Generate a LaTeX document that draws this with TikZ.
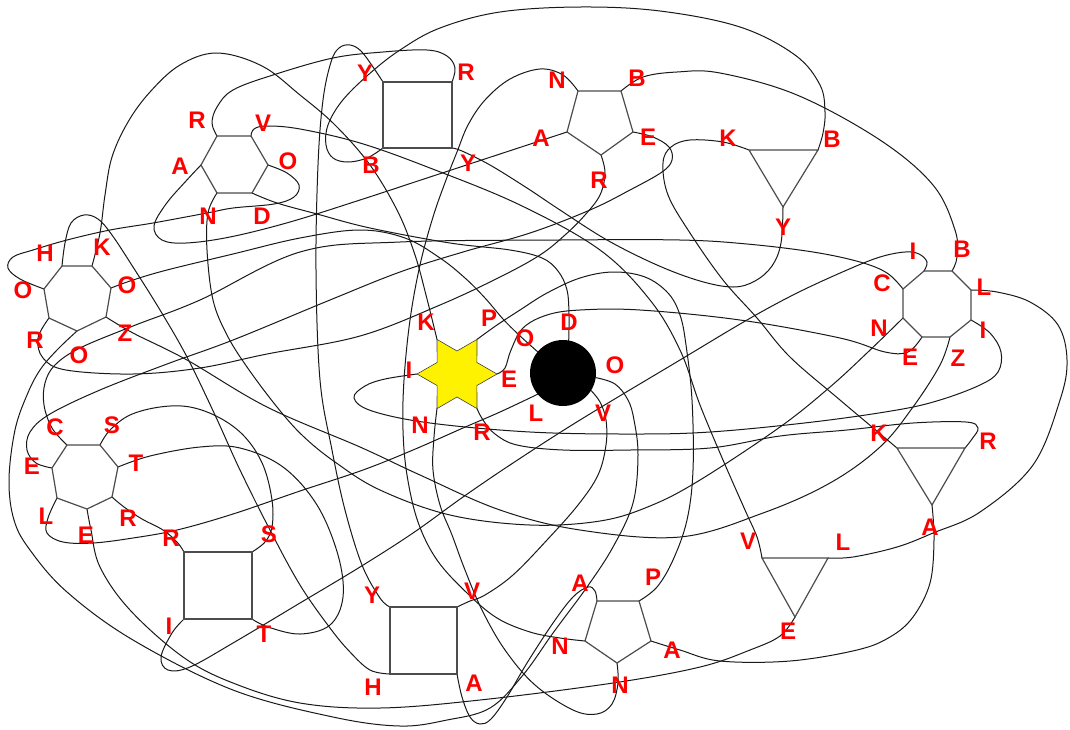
\documentclass[tikz,border=0pt]{standalone}
\usepackage{fontspec}
\setmainfont{Liberation Sans}
\begin{document}
\begin{tikzpicture}[x=1pt,y=-1pt,
  conn/.style={line width=1.0pt, draw=black!90, line cap=round},
  poly/.style={line width=1.2pt, draw=black!70, line join=miter},
  lbl/.style={text=red, font=\fontsize{24}{24}\selectfont\bfseries, inner sep=0pt}]
\useasboundingbox[fill=white] (0,0) rectangle (1070,729);
% hexagon
\coordinate (hR) at (217,136); \coordinate (hV) at (251,136); \coordinate (hO) at (268,165);
\coordinate (hD) at (252,193); \coordinate (hN) at (217,193); \coordinate (hA) at (201,165);
% top square
\coordinate (s1Ytl) at (383,82); \coordinate (s1R) at (452,82); \coordinate (s1Ybr) at (452,148); \coordinate (s1B) at (383,148);
% top pentagon
\coordinate (p1N) at (578,91); \coordinate (p1B) at (621,91); \coordinate (p1E) at (633,132); \coordinate (p1R) at (601,155); \coordinate (p1A) at (567,132);
% top triangle
\coordinate (t1K) at (749,150); \coordinate (t1B) at (818,150); \coordinate (t1Y) at (783,207);
% octagon
\coordinate (oIt) at (924,271); \coordinate (oB) at (952,271); \coordinate (oL) at (971,290); \coordinate (oIr) at (971,320);
\coordinate (oZ) at (950,337); \coordinate (oE) at (922,337); \coordinate (oN) at (903,318); \coordinate (oC) at (903,289);
% left heptagon
\coordinate (lH) at (62,266); \coordinate (lK) at (92,266); \coordinate (lOr) at (111,288); \coordinate (lZ) at (106,317);
\coordinate (lOb) at (77,331); \coordinate (lR) at (49,318); \coordinate (lOl) at (44,289);
% lower-left heptagon
\coordinate (mC) at (67,445); \coordinate (mS) at (100,445); \coordinate (mT) at (118,467); \coordinate (mR) at (112,497);
\coordinate (mEb) at (87,509); \coordinate (mL) at (57,498); \coordinate (mEl) at (52,468);
% squares
\coordinate (s2R) at (184,552); \coordinate (s2S) at (252,552); \coordinate (s2T) at (252,619); \coordinate (s2I) at (184,619);
\coordinate (s3Y) at (390,607); \coordinate (s3V) at (457,607); \coordinate (s3A) at (457,674); \coordinate (s3H) at (390,674);
% bottom pentagon
\coordinate (p2At) at (597,601); \coordinate (p2P) at (639,601); \coordinate (p2Ar) at (651,641); \coordinate (p2Nb) at (617,663); \coordinate (p2Nl) at (585,641);
% triangles
\coordinate (t2K) at (897,448); \coordinate (t2R) at (965,448); \coordinate (t2A) at (932,505);
\coordinate (t3V) at (762,558); \coordinate (t3L) at (828,558); \coordinate (t3E) at (795,617);
% star tips
\coordinate (sE) at (497,374); \coordinate (sP) at (477,339.4); \coordinate (sK) at (437,339.4);
\coordinate (sI) at (417,374); \coordinate (sN) at (437,408.6); \coordinate (sR) at (477,408.6);
% circle points
\coordinate (cc) at (563,373);
\coordinate (cD) at (568.7,340.5); \coordinate (cOtl) at (537.7,351.8); \coordinate (cOr) at (595.7,377.6);
\coordinate (cV) at (591,390.5); \coordinate (cL) at (537.7,394.2);

% connectors
\draw[conn] plot[smooth,tension=0.6] coordinates {(hA) (186,181) (166,204) (154,226) (162,240) (186,243) (230,237) (290,222) (360,200) (430,177) (500,154) (p1A)};
\draw[conn] plot[smooth,tension=0.6] coordinates {(s3A) (462,697) (470,717) (480,724) (491,719) (507,697) (527,663) (553,623) (573,597) (588,587) (595,591) (p2At)};
\draw[conn] plot[smooth,tension=0.6] coordinates {(p2Ar) (680,650) (720,661) (790,661) (857,650) (890,637) (913,617) (930,583) (934,540) (t2A)};
\draw[conn] plot[smooth,tension=0.6] coordinates {(s1B) (367,158) (348,162) (333,158) (326,145) (328,125) (342,101) (368,75) (400,50) (440,28) (500,12) (580,7) (660,11) (740,27) (795,55) (820,85) (825,112) (823,133) (t1B)};
\draw[conn] plot[smooth,tension=0.6] coordinates {(p1B) (643,77) (677,72) (720,73) (797,95) (880,140) (933,185) (955,230) (957,257) (oB)};
\draw[conn] plot[smooth,tension=0.6] coordinates {(mC) (52,428) (44,405) (45,383) (55,365) (80,348) (133,326) (200,300) (300,252) (400,242) (560,240) (680,240) (747,244) (813,252) (860,262) (887,273) (oC)};
\draw[conn] plot[smooth,tension=0.6] coordinates {(hD) (277,203) (317,214) (370,228) (450,243) (510,250) (542,258) (558,271) (567,290) (569,315) (cD)};
\draw[conn] plot[smooth,tension=0.6] coordinates {(p1E) (653,137) (669,147) (672,160) (662,172) (630,190) (590,210) (530,233) (463,252) (400,272) (330,300) (233,340) (167,364) (100,390) (50,414) (30,432) (27,450) (36,463) (mEl)};
\draw[conn] plot[smooth,tension=0.6] coordinates {(sE) (505,368) (511,350) (523,328) (547,315) (580,310) (640,310) (740,320) (840,338) (885,352) (908,352) (oE)};
\draw[conn] plot[smooth,tension=0.6] coordinates {(mEb) (91,530) (100,567) (130,610) (183,657) (233,683) (300,703) (380,708) (480,700) (613,683) (700,667) (750,650) (780,636) (t3E)};
\draw[conn] plot[smooth,tension=0.6] coordinates {(lH) (65,243) (71,223) (84,215) (98,219) (112,235) (133,267) (160,310) (187,357) (215,415) (240,470) (270,530) (300,585) (330,628) (350,652) (370,670) (s3H)};
\draw[conn] plot[smooth,tension=0.6] coordinates {(oIt) (927,262) (919,254) (905,252) (880,257) (847,270) (797,293) (747,320) (680,360) (580,420) (513,463) (463,497) (413,533) (360,567) (300,603) (233,643) (190,667) (168,670) (161,657) (172,633) (s2I)};
\draw[conn] plot[smooth,tension=0.6] coordinates {(oIr) (990,333) (1001,352) (998,372) (980,385) (940,400) (897,410) (813,422) (710,432) (630,434) (530,432) (430,423) (372,411) (354,398) (365,386) (385,379) (sI)};
\draw[conn] plot[smooth,tension=0.6] coordinates {(t1K) (723,142) (690,140) (671,147) (663,163) (668,195) (690,233) (723,280) (757,318) (790,357) (840,400) (878,432) (t2K)};
\draw[conn] plot[smooth,tension=0.6] coordinates {(lK) (100,233) (105,195) (112,157) (128,122) (150,92) (180,65) (217,53) (262,66) (300,95) (335,125) (370,165) (398,212) (415,255) (426,295) (sK)};
\draw[conn] plot[smooth,tension=0.6] coordinates {(oL) (997,292) (1030,302) (1058,325) (1067,360) (1060,400) (1033,465) (980,512) (933,533) (897,547) (853,557) (t3L)};
\draw[conn] plot[smooth,tension=0.6] coordinates {(mL) (48,518) (47,533) (63,542) (93,543) (133,538) (177,530) (233,514) (300,491) (363,470) (413,450) (463,428) (500,412) (cL)};
\draw[conn] plot[smooth,tension=0.6] coordinates {(hN) (208,213) (207,250) (213,300) (227,335) (247,367) (277,407) (303,436) (335,462) (380,490) (450,515) (530,525) (600,521) (650,506) (700,480) (780,427) (830,387) (868,352) (oN)};
\draw[conn] plot[smooth,tension=0.6] coordinates {(p1N) (563,75) (540,69) (510,79) (485,100) (468,125) (457,152) (446,180) (433,217) (420,265) (410,320) (404,380) (403,430) (407,475) (418,522) (437,560) (467,593) (497,618) (530,632) (560,638) (p2Nl)};
\draw[conn] plot[smooth,tension=0.6] coordinates {(sN) (434,437) (433,470) (440,505) (452,535) (465,570) (482,610) (505,650) (535,685) (573,710) (597,714) (612,704) (618,683) (p2Nb)};
\draw[conn] plot[smooth,tension=0.6] coordinates {(hO) (287,173) (299,185) (294,197) (274,204) (233,208) (207,213) (153,223) (110,230) (67,240) (33,250) (13,257) (8,268) (20,279) (lOl)};
\draw[conn] plot[smooth,tension=0.6] coordinates {(lOr) (133,280) (167,270) (233,254) (300,238) (360,230) (405,238) (440,258) (465,278) (485,298) (503,319) (519,335) (cOtl)};
\draw[conn] plot[smooth,tension=0.6] coordinates {(lOb) (57,350) (40,370) (27,395) (15,430) (9,480) (14,520) (30,550) (67,592) (133,640) (233,690) (333,717) (400,726) (447,720) (490,708) (523,675) (553,633) (587,587) (613,547) (633,503) (638,455) (634,420) (628,400) (615,384) (cOr)};
\draw[conn] plot[smooth,tension=0.6] coordinates {(sP) (497,325) (520,310) (547,293) (580,278) (613,272) (645,277) (668,293) (680,315) (686,345) (692,400) (693,470) (687,520) (673,560) (657,587) (p2P)};
\draw[conn] plot[smooth,tension=0.6] coordinates {(hR) (212,123) (217,107) (233,90) (273,75) (333,58) (383,52) (427,50) (447,56) (455,68) (s1R)};
\draw[conn] plot[smooth,tension=0.6] coordinates {(mR) (124,507) (142,519) (163,530) (177,542) (s2R)};
\draw[conn] plot[smooth,tension=0.6] coordinates {(lR) (38,338) (43,358) (66,370) (133,374) (200,368) (267,354) (360,336) (440,305) (500,277) (540,255) (565,235) (585,215) (600,195) (605,173) (p1R)};
\draw[conn] plot[smooth,tension=0.6] coordinates {(sR) (483,420) (495,434) (517,445) (563,450) (630,450) (710,448) (780,436) (847,430) (913,423) (966,422) (978,428) (972,439) (t2R)};
\draw[conn] plot[smooth,tension=0.6] coordinates {(mS) (110,430) (130,415) (160,407) (190,407) (220,418) (245,437) (263,465) (272,500) (272,527) (265,542) (s2S)};
\draw[conn] plot[smooth,tension=0.6] coordinates {(mT) (150,456) (200,447) (240,448) (283,467) (317,505) (338,555) (343,597) (330,625) (300,634) (268,627) (s2T)};
\draw[conn] plot[smooth,tension=0.6] coordinates {(hV) (254,129) (267,126) (300,129) (360,143) (430,168) (520,205) (600,250) (650,300) (680,350) (700,405) (723,460) (745,510) (757,537) (t3V)};
\draw[conn] plot[smooth,tension=0.6] coordinates {(cV) (600,402) (606,420) (606,445) (598,475) (578,505) (547,540) (513,575) (485,595) (470,601) (s3V)};
\draw[conn] plot[smooth,tension=0.6] coordinates {(s1Ytl) (373,67) (361,51) (350,45) (339,48) (331,62) (323,100) (318,165) (316,270) (320,380) (332,450) (345,510) (362,565) (380,598) (s3Y)};
\draw[conn] plot[smooth,tension=0.6] coordinates {(s1Ybr) (462,151) (490,165) (527,188) (560,210) (607,240) (657,265) (700,281) (733,287) (755,281) (772,266) (781,243) (t1Y)};
\draw[conn] plot[smooth,tension=0.6] coordinates {(lZ) (133,333) (187,360) (267,407) (360,447) (420,475) (500,510) (580,530) (680,537) (763,513) (830,483) (880,447) (913,407) (940,365) (oZ)};

% polygons
\draw[poly] (hR) -- (hV) -- (hO) -- (hD) -- (hN) -- (hA) -- cycle;
\draw[poly] (s1Ytl) -- (s1R) -- (s1Ybr) -- (s1B) -- cycle;
\draw[poly] (p1N) -- (p1B) -- (p1E) -- (p1R) -- (p1A) -- cycle;
\draw[poly] (t1K) -- (t1B) -- (t1Y) -- cycle;
\draw[poly] (oIt) -- (oB) -- (oL) -- (oIr) -- (oZ) -- (oE) -- (oN) -- (oC) -- cycle;
\draw[poly] (lH) -- (lK) -- (lOr) -- (lZ) -- (lOb) -- (lR) -- (lOl) -- cycle;
\draw[poly] (mC) -- (mS) -- (mT) -- (mR) -- (mEb) -- (mL) -- (mEl) -- cycle;
\draw[poly] (s2R) -- (s2S) -- (s2T) -- (s2I) -- cycle;
\draw[poly] (s3Y) -- (s3V) -- (s3A) -- (s3H) -- cycle;
\draw[poly] (p2At) -- (p2P) -- (p2Ar) -- (p2Nb) -- (p2Nl) -- cycle;
\draw[poly] (t2K) -- (t2R) -- (t2A) -- cycle;
\draw[poly] (t3V) -- (t3L) -- (t3E) -- cycle;
% star
\filldraw[fill=yellow, draw=black!75, line width=0.6pt] (sE) -- (476.92,362.5) -- (sP) -- (457,351) -- (sK) -- (437.08,362.5) -- (sI) -- (437.08,385.5) -- (sN) -- (457,397) -- (sR) -- (476.92,385.5) -- cycle;
% black circle
\fill[black] (cc) circle[radius=33];

% labels
\node[lbl] (LhR) at (197,120) {R}; \node[lbl] (LhV) at (263,123) {V}; \node[lbl] (LhO) at (288,161) {O};
\node[lbl] (LhD) at (262,216) {D}; \node[lbl] (LhN) at (208,216) {N}; \node[lbl] (LhA) at (180,166) {A};
\node[lbl] (Ls1Yt) at (365,73) {Y}; \node[lbl] (Ls1R) at (466,72) {R}; \node[lbl] (Ls1B) at (371,165) {B}; \node[lbl] (Ls1Yb) at (468,163) {Y};
\node[lbl] (Lp1N) at (557,80) {N}; \node[lbl] (Lp1B) at (637,78) {B}; \node[lbl] (Lp1E) at (648,137) {E}; \node[lbl] (Lp1R) at (599,180) {R}; \node[lbl] (Lp1A) at (541,138) {A};
\node[lbl] (Lt1K) at (728,138) {K}; \node[lbl] (Lt1B) at (832,139) {B}; \node[lbl] (Lt1Y) at (783,227) {Y};
\node[lbl] (LoIt) at (913,251) {I}; \node[lbl] (LoB) at (962,249) {B}; \node[lbl] (LoL) at (984,287) {L}; \node[lbl] (LoIr) at (983,330) {I};
\node[lbl] (LoZ) at (958,358) {Z}; \node[lbl] (LoE) at (910,357) {E}; \node[lbl] (LoN) at (879,328) {N}; \node[lbl] (LoC) at (882,283) {C};
\node[lbl] (LlH) at (45,253) {H}; \node[lbl] (LlK) at (102,247) {K}; \node[lbl] (LlOr) at (127,285) {O}; \node[lbl] (LlZ) at (125,333) {Z};
\node[lbl] (LlOb) at (79,355) {O}; \node[lbl] (LlR) at (35,340) {R}; \node[lbl] (LlOl) at (23,290) {O};
\node[lbl] (LmC) at (55,427) {C}; \node[lbl] (LmS) at (112,425) {S}; \node[lbl] (LmT) at (136,463) {T}; \node[lbl] (LmR) at (128,518) {R};
\node[lbl] (LmEb) at (86,535) {E}; \node[lbl] (LmL) at (46,516) {L}; \node[lbl] (LmEl) at (32,466) {E};
\node[lbl] (Ls2R) at (171,538) {R}; \node[lbl] (Ls2S) at (269,534) {S}; \node[lbl] (Ls2I) at (169,626) {I}; \node[lbl] (Ls2T) at (264,634) {T};
\node[lbl] (Ls3Y) at (372,595) {Y}; \node[lbl] (Ls3V) at (472,591) {V}; \node[lbl] (Ls3H) at (373,687) {H}; \node[lbl] (Ls3A) at (474,683) {A};
\node[lbl] (Lp2At) at (580,583) {A}; \node[lbl] (Lp2P) at (653,577) {P}; \node[lbl] (Lp2Ar) at (672,650) {A}; \node[lbl] (Lp2Nb) at (620,685) {N}; \node[lbl] (Lp2Nl) at (560,646) {N};
\node[lbl] (Lt2K) at (879,433) {K}; \node[lbl] (Lt2R) at (988,441) {R}; \node[lbl] (Lt2A) at (930,527) {A};
\node[lbl] (Lt3V) at (748,541) {V}; \node[lbl] (Lt3L) at (843,542) {L}; \node[lbl] (Lt3E) at (788,631) {E};
\node[lbl] (LsK) at (426,322) {K}; \node[lbl] (LsP) at (489,318) {P}; \node[lbl] (LsI) at (409,370) {I};
\node[lbl] (LsE) at (509,379) {E}; \node[lbl] (LsN) at (420,425) {N}; \node[lbl] (LsR) at (482,432) {R};
\node[lbl] (LcD) at (569,322) {D}; \node[lbl] (LcOt) at (525,338) {O}; \node[lbl] (LcOr) at (615,365) {O};
\node[lbl] (LcL) at (536,413) {L}; \node[lbl] (LcV) at (603,413) {V};
\end{tikzpicture}
\end{document}
